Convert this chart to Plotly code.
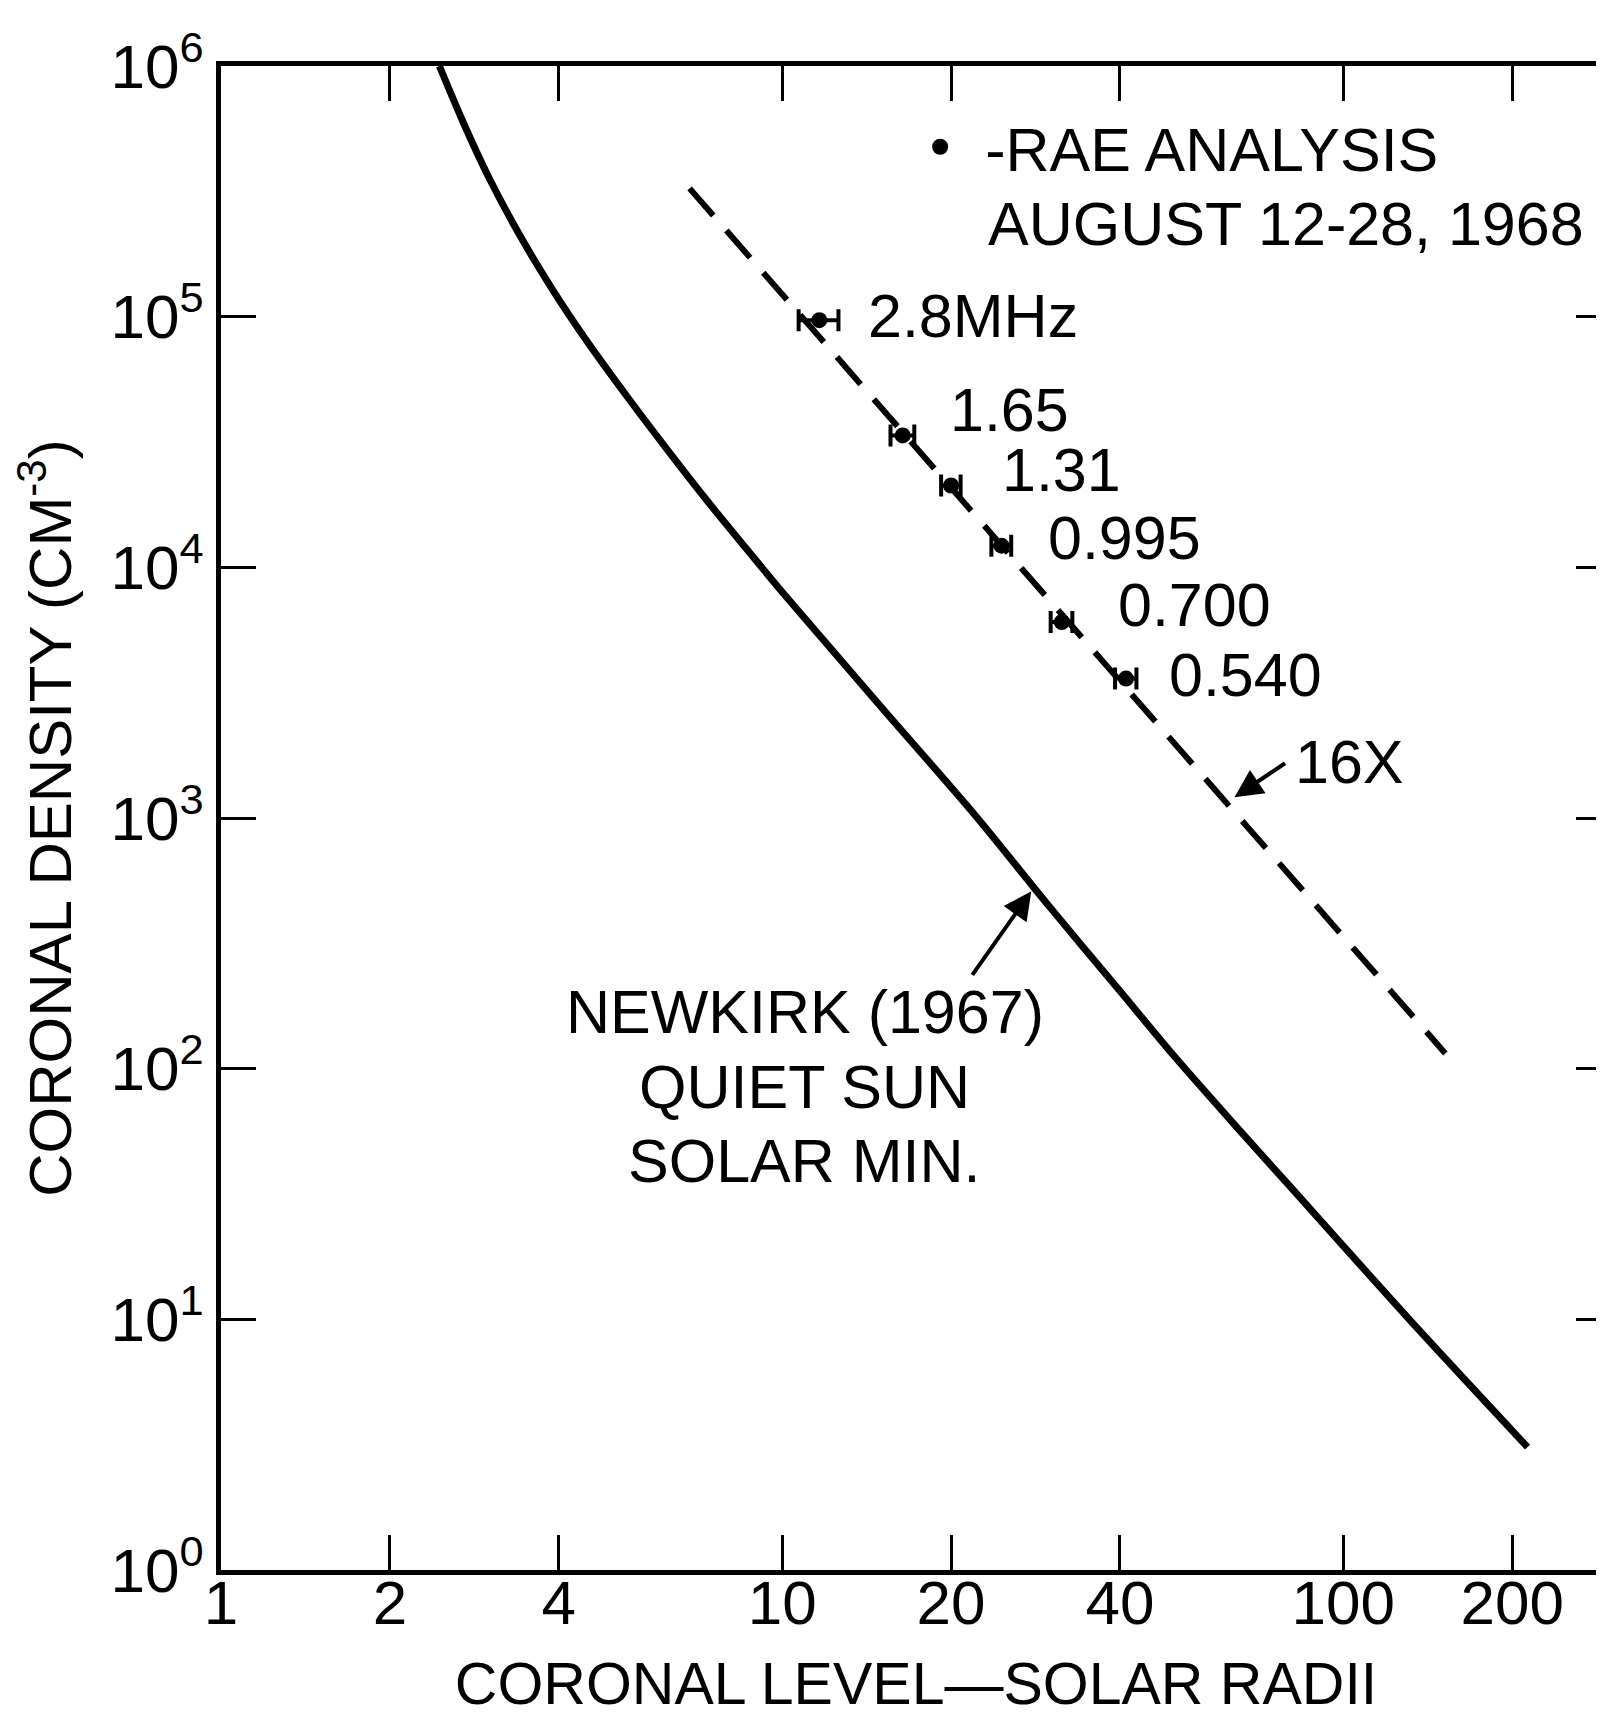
import math
import plotly.graph_objects as go

# ---- data ----
newkirk_r = [2.45, 2.7, 3.0, 3.4, 3.9, 4.5, 5.3, 6.3, 7.4, 8.6, 10, 15, 22, 30, 40, 50, 65, 80, 130, 213]
newkirk_n = [1.0e6, 5.98e5, 3.6e5, 2.13e5, 1.28e5, 7.92e4, 4.78e4, 2.87e4, 1.81e4, 1.2e4,
             7.98e3, 2.78e3, 1.035e3, 441, 204, 112, 57.5, 34.3, 10.2, 3.09]

x16_r = [6.84, 152]
x16_n = [3.25e5, 115]

rae_r = [11.65, 16.4, 20.0, 24.6, 31.5, 41.0]
rae_n = [9.68e4, 3.36e4, 2.12e4, 1.22e4, 6.05e3, 3.6e3]
rae_err = [0.95, 0.8, 0.8, 1.0, 1.4, 1.8]
rae_labels = ["2.8MHz", "1.65", "1.31", "0.995", "0.700", "0.540"]

x_tickvals = [1, 2, 4, 10, 20, 40, 100, 200]
x_ticktext = ["1", "2", "4", "10", "20", "40", "100", "200"]
y_tickvals = [1, 10, 100, 1000, 1e4, 1e5, 1e6]
y_ticktext = ["10<sup>%d</sup>" % i for i in range(7)]

FONT = "Liberation Sans, Arial, sans-serif"
BIG = 61

fig = go.Figure()
fig.add_trace(go.Scatter(x=newkirk_r, y=newkirk_n, mode="lines",
                         line=dict(color="black", width=7, shape="spline", smoothing=0.8),
                         showlegend=False, hoverinfo="skip"))
fig.add_trace(go.Scatter(x=x16_r, y=x16_n, mode="lines",
                         line=dict(color="black", width=6, dash="36px,20px"),
                         showlegend=False, hoverinfo="skip"))
fig.add_trace(go.Scatter(x=rae_r, y=rae_n, mode="markers",
                         marker=dict(color="black", size=16),
                         error_x=dict(type="data", array=rae_err, color="black",
                                      thickness=4, width=11),
                         name="-RAE ANALYSIS",
                         showlegend=True))

ann = []
xs = [47, 45, 49, 44, 54, 41]
ys = [4, 25, 16, 8, 17, 4]
for r, n, t, dx, dy in zip(rae_r, rae_n, rae_labels, xs, ys):
    ann.append(dict(x=math.log10(r), y=math.log10(n), xref="x", yref="y", text=t,
                    showarrow=False, xanchor="left", yanchor="middle",
                    xshift=dx, yshift=dy, font=dict(size=BIG, family=FONT, color="black")))

# second line of the key
ann.append(dict(x=0.550, y=0.895, xref="paper", yref="paper", text="AUGUST 12-28, 1968",
                showarrow=False, xanchor="left", yanchor="middle",
                font=dict(size=BIG, family=FONT, color="black")))

# 16X arrow and label
ann.append(dict(x=math.log10(64), y=math.log10(1.21e3), xref="x", yref="y", text="",
                showarrow=True, ax=52, ay=-35, arrowhead=2, arrowsize=1.4, arrowwidth=4,
                arrowcolor="black", standoff=0))
ann.append(dict(x=0.771, y=0.537, xref="paper", yref="paper", text="16X", showarrow=False,
                xanchor="left", yanchor="middle", font=dict(size=BIG, family=FONT, color="black")))

# Newkirk arrow and label
ann.append(dict(x=math.log10(27.8), y=math.log10(510), xref="x", yref="y", text="",
                showarrow=True, ax=-60, ay=85, arrowhead=2, arrowsize=1.4, arrowwidth=4,
                arrowcolor="black", standoff=0))
for t, py in [("NEWKIRK (1967)", 0.371), ("QUIET SUN", 0.321), ("SOLAR MIN.", 0.272)]:
    ann.append(dict(x=0.42, y=py, xref="paper", yref="paper", text=t, showarrow=False,
                    xanchor="center", yanchor="middle",
                    font=dict(size=BIG, family=FONT, color="black")))

axis_common = dict(type="log", showgrid=False, zeroline=False, showline=True, linecolor="black",
                   linewidth=5, mirror="ticks", ticks="inside", ticklen=35, tickwidth=3,
                   tickcolor="black", tickfont=dict(size=62, family=FONT, color="black"))

fig.update_layout(
    width=1604, height=1715,
    margin=dict(l=213, r=1, t=58, b=153),
    template="none",
    paper_bgcolor="white", plot_bgcolor="white",
    font=dict(family=FONT, color="black"),
    xaxis=dict(range=[0, math.log10(300)], tickvals=x_tickvals, ticktext=x_ticktext,
               ticklabelstandoff=-25,
               title=dict(text="CORONAL LEVEL\u2014SOLAR RADII",
                          font=dict(size=59, family=FONT, color="black"), standoff=28),
               **axis_common),
    yaxis=dict(range=[0, 6], tickvals=y_tickvals, ticktext=y_ticktext,
               title=dict(text="CORONAL DENSITY (CM<sup>-3</sup>)",
                          font=dict(size=60, family=FONT, color="black"), standoff=22),
               **axis_common),
    legend=dict(x=0.485, y=0.977, xanchor="left", yanchor="top", bgcolor="rgba(0,0,0,0)",
                borderwidth=0, itemwidth=80, valign="middle",
                font=dict(size=BIG, family=FONT, color="black")),
    annotations=ann,
    showlegend=True,
)

fig.write_html("out.html")
